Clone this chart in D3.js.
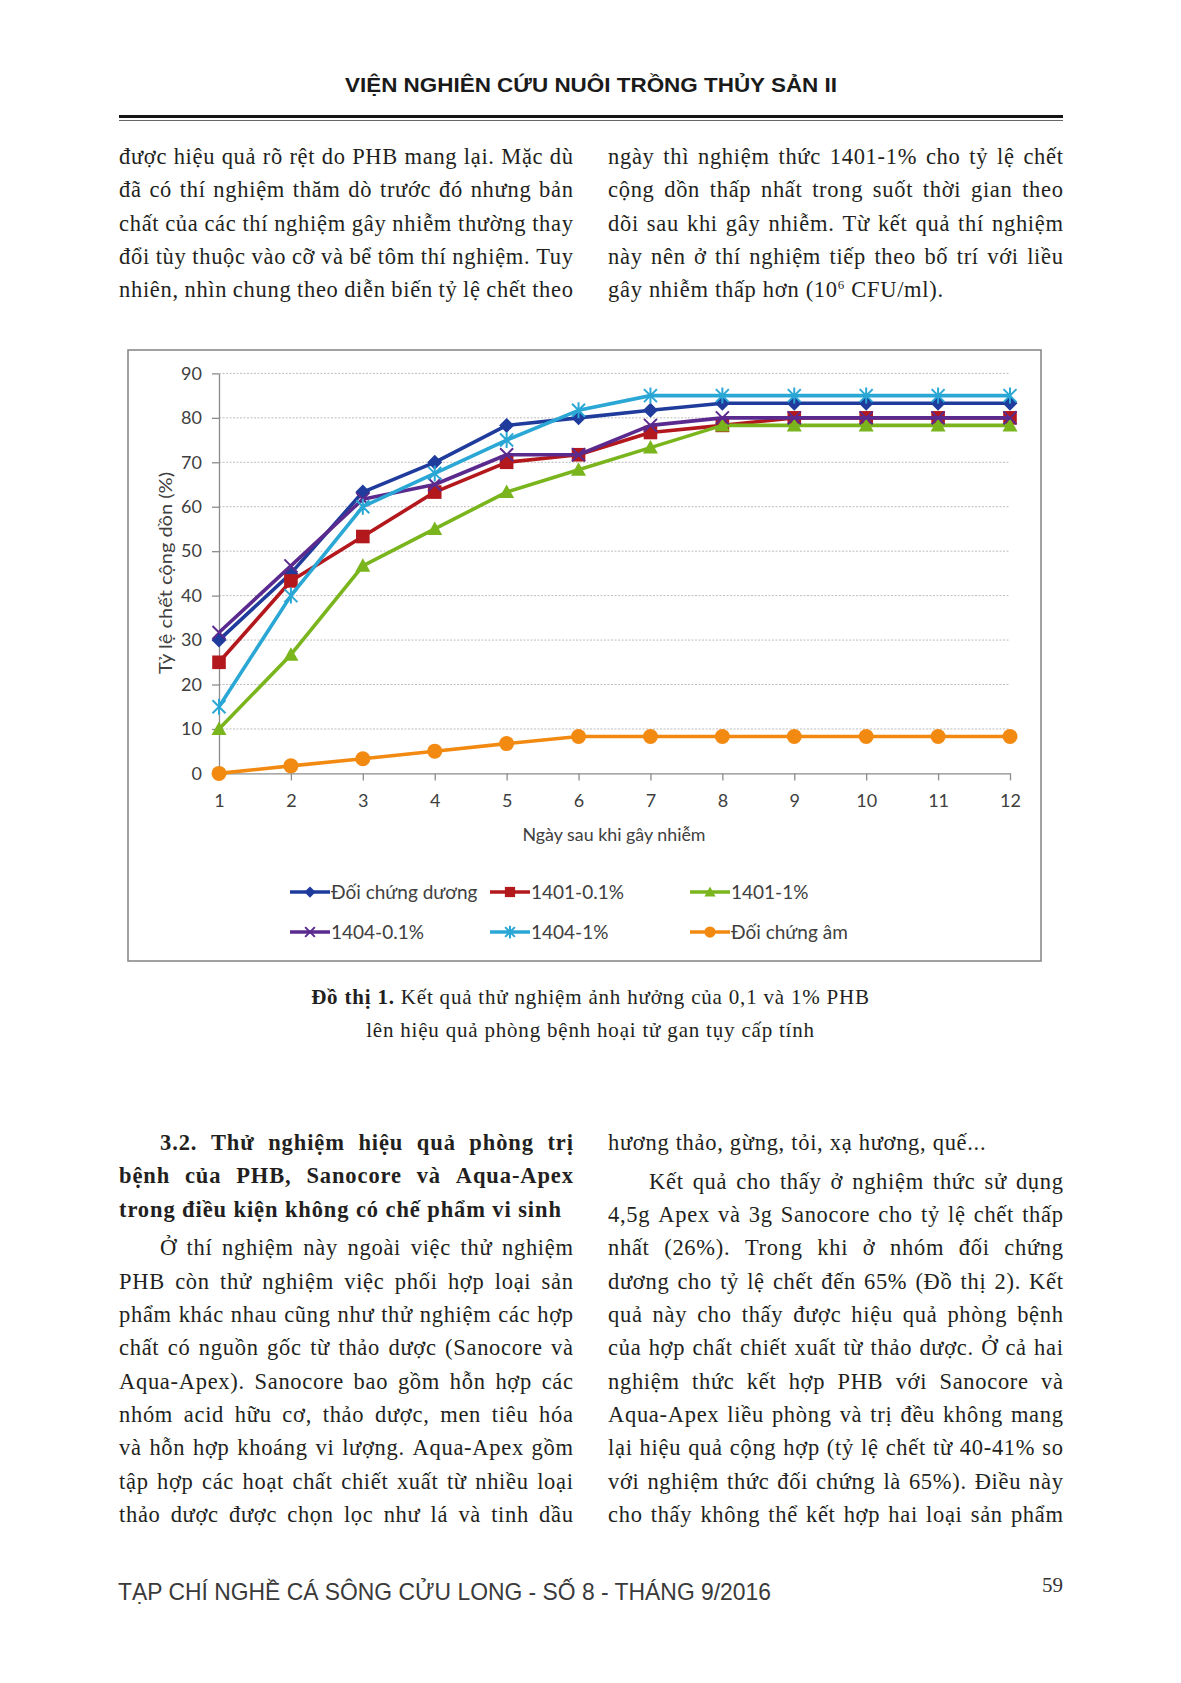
<!DOCTYPE html>
<html><head><meta charset="utf-8">
<script src="https://cdn.jsdelivr.net/npm/d3@7"></script>
<style>html,body{margin:0;padding:0;background:#fff}svg{display:block}</style>
</head><body>
<svg id="page" width="1181" height="1683"></svg>
<script>
// ---------------- DATA ----------------
const days = [1,2,3,4,5,6,7,8,9,10,11,12];
const yTicks = [0,10,20,30,40,50,60,70,80,90];
const seriesNames = ["Đối chứng dương","1401-0.1%","1401-1%","1404-0.1%","1404-1%","Đối chứng âm"];
const doiChungDuong = [30,45,63.3,70,78.3,80,81.7,83.3,83.3,83.3,83.3,83.3];
const s1401_01     = [25,43.3,53.3,63.3,70,71.7,76.7,78.3,80,80,80,80];
const s1401_1      = [10,26.7,46.7,55,63.3,68.3,73.3,78.3,78.3,78.3,78.3,78.3];
const s1404_01     = [31.7,46.7,61.7,65,71.7,71.7,78.3,80,80,80,80,80];
const s1404_1      = [15,40,60,67.5,75,81.7,85,85,85,85,85,85];
const doiChungAm   = [0,1.7,3.3,5,6.7,8.3,8.3,8.3,8.3,8.3,8.3,8.3];
const xTitle = "Ngày sau khi gây nhiễm";
const yTitle = "Tỷ lệ chết cộng dồn (%)";

const headerText = "VIỆN NGHIÊN CỨU NUÔI TRỒNG THỦY SẢN II";
const footerText = "TẠP CHÍ NGHỀ CÁ SÔNG CỬU LONG - SỐ 8 - THÁNG 9/2016";
const pageNumber = "59";
const topLeftLines = [
  "được hiệu quả rõ rệt do PHB mang lại. Mặc dù",
  "đã có thí nghiệm thăm dò trước đó nhưng bản",
  "chất của các thí nghiệm gây nhiễm thường thay",
  "đổi tùy thuộc vào cỡ và bể tôm thí nghiệm. Tuy",
  "nhiên, nhìn chung theo diễn biến tỷ lệ chết theo"
];
const topRightLines = [
  "ngày thì nghiệm thức 1401-1% cho tỷ lệ chết",
  "cộng dồn thấp nhất trong suốt thời gian theo",
  "dõi sau khi gây nhiễm. Từ kết quả thí nghiệm",
  "này nên ở thí nghiệm tiếp theo bố trí với liều"
];
const captionBold = "Đồ thị 1.";
const captionRest = " Kết quả thử nghiệm ảnh hưởng của 0,1 và 1% PHB";
const captionLine2 = "lên hiệu quả phòng bệnh hoại tử gan tụy cấp tính";
const headingLines = [
  "3.2. Thử nghiệm hiệu quả phòng trị",
  "bệnh của PHB, Sanocore và Aqua-Apex",
  "trong điều kiện không có chế phẩm vi sinh"
];
const bottomLeftLines = [
  "Ở thí nghiệm này ngoài việc thử nghiệm",
  "PHB còn thử nghiệm việc phối hợp loại sản",
  "phẩm khác nhau cũng như thử nghiệm các hợp",
  "chất có nguồn gốc từ thảo dược (Sanocore và",
  "Aqua-Apex). Sanocore bao gồm hỗn hợp các",
  "nhóm acid hữu cơ, thảo dược, men tiêu hóa",
  "và hỗn hợp khoáng vi lượng. Aqua-Apex gồm",
  "tập hợp các hoạt chất chiết xuất từ nhiều loại",
  "thảo dược được chọn lọc như lá và tinh dầu"
];
const bottomRightFirst = "hương thảo, gừng, tỏi, xạ hương, quế...";
const bottomRightLines = [
  "Kết quả cho thấy ở nghiệm thức sử dụng",
  "4,5g Apex và 3g Sanocore cho tỷ lệ chết thấp",
  "nhất (26%). Trong khi ở nhóm đối chứng",
  "dương cho tỷ lệ chết đến 65% (Đồ thị 2). Kết",
  "quả này cho thấy được hiệu quả phòng bệnh",
  "của hợp chất chiết xuất từ thảo dược. Ở cả hai",
  "nghiệm thức kết hợp PHB với Sanocore và",
  "Aqua-Apex liều phòng và trị đều không mang",
  "lại hiệu quả cộng hợp (tỷ lệ chết từ 40-41% so",
  "với nghiệm thức đối chứng là 65%). Điều này",
  "cho thấy không thể kết hợp hai loại sản phẩm"
];

// ---------------- STYLE ----------------
const seriesColors = ["#1f3c9c","#b3181c","#7ab51d","#5b2a8e","#2aa7d4","#f28a12"];
const seriesMarkers = ["diamond","square","triangle","x","asterisk","circle"];
const seriesValues = [doiChungDuong, s1401_01, s1401_1, s1404_01, s1404_1, doiChungAm];
const series = seriesNames.map((n,i)=>({name:n, values:seriesValues[i], color:seriesColors[i], marker:seriesMarkers[i]}));

const SERIF = "'Liberation Serif','Times New Roman','DejaVu Serif',serif";
const SANS = "'Liberation Sans',Arial,sans-serif";
const CHART = "Lato,'Open Sans',sans-serif";
const TXT = "#231f20";
const BODY = {size:22.5, ls:0.7};
const HEAD = {size:22.5, ls:0.9};
const CAP  = {size:21, ls:0.8};

const page = d3.select("#page");
page.append("rect").attr("width",1181).attr("height",1683).attr("fill","#fff");

// ---------------- HEADER / FOOTER ----------------
page.append("text").attr("x",345).attr("y",92)
  .attr("font-family",SANS).attr("font-weight","bold").attr("font-size",21)
  .attr("fill","#1a1a1a").attr("textLength",492).attr("lengthAdjust","spacingAndGlyphs")
  .text(headerText);
page.append("line").attr("x1",119).attr("x2",1063).attr("y1",116.5).attr("y2",116.5)
  .attr("stroke","#151515").attr("stroke-width",3);
page.append("line").attr("x1",119).attr("x2",1063).attr("y1",120.5).attr("y2",120.5)
  .attr("stroke","#666").attr("stroke-width",1.2);

page.append("text").attr("x",118).attr("y",1600)
  .attr("font-family",SANS).attr("font-size",24).attr("fill","#3a3a3a")
  .attr("textLength",653).attr("lengthAdjust","spacingAndGlyphs")
  .text(footerText);
page.append("text").attr("x",1063).attr("y",1592).attr("text-anchor","end")
  .attr("font-family",SERIF).attr("font-size",21).attr("fill","#333").text(pageNumber);

// ---------------- BODY TEXT HELPERS ----------------
function fontAttrs(sel, st, bold){
  return sel.attr("font-family",SERIF).attr("font-size",st.size).attr("letter-spacing",st.ls)
    .attr("font-weight", bold ? "bold" : "normal").attr("fill",TXT);
}
function justifiedLine(str, x0, x1, baseline, st, bold){
  const words = str.split(" ");
  const g = page.append("g").attr("transform",`translate(${x0},${baseline})`);
  const nodes = words.map(w => fontAttrs(g.append("text"), st, bold).text(w));
  const widths = nodes.map(n => n.node().getComputedTextLength());
  const avail = (x1 - x0) + st.ls;
  const gap = (avail - d3.sum(widths)) / Math.max(1, words.length - 1);
  let cx = 0;
  nodes.forEach((n,i) => { n.attr("x", cx); cx += widths[i] + gap; });
}
function plainLine(str, x0, baseline, st, bold){
  const g = page.append("g").attr("transform",`translate(${x0},${baseline})`);
  return fontAttrs(g.append("text"), st, bold).text(str);
}

const L0 = 119, L1 = 573, R0 = 608, R1 = 1063, IND = 41;
const LH = 33.35;

// top paragraphs
const topBase = [164, 197.3, 230.7, 264, 297.4];
topLeftLines.forEach((s,i) => justifiedLine(s, L0, L1, topBase[i], BODY, false));
topRightLines.forEach((s,i) => justifiedLine(s, R0, R1, topBase[i], BODY, false));
{
  const t = plainLine("gây nhiễm thấp hơn (10", R0, topBase[4], BODY, false);
  t.append("tspan").attr("dy",-8).attr("font-size",13).text("6");
  t.append("tspan").attr("dy",8).text(" CFU/ml).");
}

// caption
{
  const g = page.append("g").attr("transform",`translate(590.5,1004)`);
  const t = fontAttrs(g.append("text"), CAP, false).attr("text-anchor","middle");
  t.append("tspan").attr("font-weight","bold").text(captionBold);
  t.append("tspan").text(captionRest);
  const g2 = page.append("g").attr("transform",`translate(590.5,1037)`);
  fontAttrs(g2.append("text"), CAP, false).attr("text-anchor","middle").text(captionLine2);
}

// bottom left: heading + paragraph
const headBase = [1150, 1183.3, 1216.6];
justifiedLine(headingLines[0], L0 + IND, L1, headBase[0], HEAD, true);
justifiedLine(headingLines[1], L0, L1, headBase[1], HEAD, true);
plainLine(headingLines[2], L0, headBase[2], HEAD, true);
bottomLeftLines.forEach((s,i) => {
  justifiedLine(s, i===0 ? L0+IND : L0, L1, 1255.3 + i*LH, BODY, false);
});

// bottom right
plainLine(bottomRightFirst, R0, 1150, BODY, false);
bottomRightLines.forEach((s,i) => {
  justifiedLine(s, i===0 ? R0+IND : R0, R1, 1188.6 + i*LH, BODY, false);
});

// ---------------- CHART ----------------
const chart = page.append("g");
chart.append("rect").attr("x",128).attr("y",350).attr("width",913).attr("height",611)
  .attr("fill","#fff").attr("stroke","#8a8a8a").attr("stroke-width",1.6);

const x = d3.scalePoint().domain(days).range([219, 1010]);
const y = d3.scaleLinear().domain([0, 90]).range([773.4, 373.4]);

chart.append("g").selectAll("line").data(yTicks.filter(d => d > 0)).join("line")
  .attr("x1",219).attr("x2",1010).attr("y1",d=>y(d)).attr("y2",d=>y(d))
  .attr("stroke","#bdbdbd").attr("stroke-width",1).attr("stroke-dasharray","2,1.5");

const axY = chart.append("g").attr("transform","translate(219,0)")
  .call(d3.axisLeft(y).tickValues(yTicks).tickSize(7).tickSizeOuter(0).tickPadding(10));
const axX = chart.append("g").attr("transform","translate(0,773.4)")
  .call(d3.axisBottom(x).tickSize(7).tickSizeOuter(0).tickPadding(14));
[axY, axX].forEach(a => {
  a.select(".domain").attr("stroke","#8c8c8c").attr("stroke-width",1.3);
  a.selectAll(".tick line").attr("stroke","#8c8c8c").attr("stroke-width",1.3);
  a.selectAll(".tick text").attr("font-family",CHART).attr("font-size",18).attr("fill","#404040");
});

chart.append("text").attr("x",614).attr("y",841).attr("text-anchor","middle")
  .attr("font-family",CHART).attr("font-size",18).attr("fill","#404040")
  .attr("textLength",183).attr("lengthAdjust","spacingAndGlyphs").text(xTitle);
chart.append("text").attr("transform","translate(172,573) rotate(-90)").attr("text-anchor","middle")
  .attr("font-family",CHART).attr("font-size",18).attr("fill","#404040")
  .attr("textLength",202).attr("lengthAdjust","spacingAndGlyphs").text(yTitle);

function drawMarker(g, type, color, cx, cy, k){
  const s = 7.5 * k;
  if (type === "diamond") {
    g.append("path").attr("d",`M${cx},${cy-s}L${cx+s},${cy}L${cx},${cy+s}L${cx-s},${cy}Z`).attr("fill",color);
  } else if (type === "square") {
    const h = 6.8 * k;
    g.append("rect").attr("x",cx-h).attr("y",cy-h).attr("width",2*h).attr("height",2*h).attr("fill",color);
  } else if (type === "triangle") {
    g.append("path").attr("d",`M${cx},${cy-s}L${cx+s},${cy+s*0.8}L${cx-s},${cy+s*0.8}Z`).attr("fill",color);
  } else if (type === "x") {
    const h = 6.5 * k;
    g.append("path").attr("d",`M${cx-h},${cy-h}L${cx+h},${cy+h}M${cx-h},${cy+h}L${cx+h},${cy-h}`)
      .attr("stroke",color).attr("stroke-width",2).attr("fill","none");
  } else if (type === "asterisk") {
    const h = 6.5 * k;
    g.append("path").attr("d",`M${cx-h},${cy-h}L${cx+h},${cy+h}M${cx-h},${cy+h}L${cx+h},${cy-h}M${cx},${cy-h-1.5}L${cx},${cy+h+1.5}`)
      .attr("stroke",color).attr("stroke-width",2).attr("fill","none");
  } else {
    g.append("circle").attr("cx",cx).attr("cy",cy).attr("r",7.5*k).attr("fill",color);
  }
}

const line = d3.line().x((d,i) => x(days[i])).y(d => y(d));
series.forEach(s => {
  const g = chart.append("g");
  g.append("path").datum(s.values).attr("d",line).attr("fill","none")
    .attr("stroke",s.color).attr("stroke-width",3.6).attr("stroke-linejoin","round");
  s.values.forEach((v,i) => drawMarker(g, s.marker, s.color, x(days[i]), y(v), 1));
});

// legend
const legendPos = [[290,892],[490,892],[690,892],[290,932],[490,932],[690,932]];
series.forEach((s,i) => {
  const [lx, ly] = legendPos[i];
  const g = chart.append("g");
  g.append("line").attr("x1",lx).attr("x2",lx+40).attr("y1",ly).attr("y2",ly)
    .attr("stroke",s.color).attr("stroke-width",3.6);
  drawMarker(g, s.marker, s.color, lx+20, ly, 0.75);
  g.append("text").attr("x",lx+41).attr("y",ly).attr("dy","0.36em")
    .attr("font-family",CHART).attr("font-size",19).attr("fill","#404040").text(s.name);
});
</script>
</body></html>
